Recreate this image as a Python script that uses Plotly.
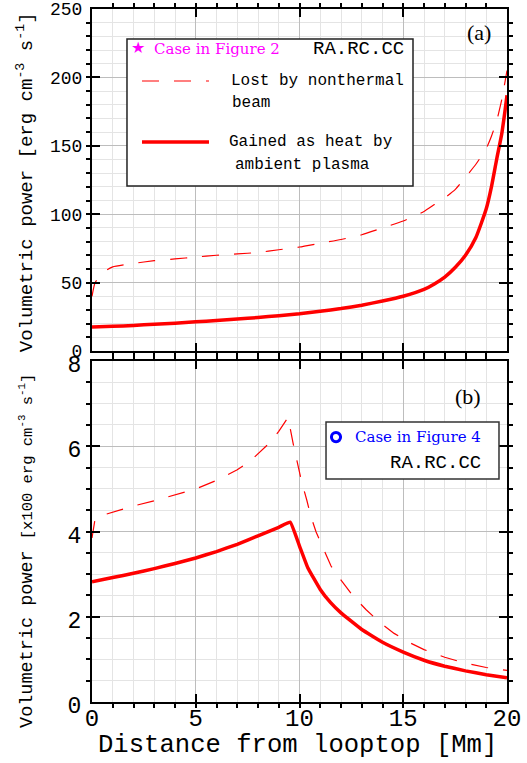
import plotly.graph_objects as go

# Panel (a): volumetric power along the loop [erg cm^-3 s^-1]
xa_lost = [0, 0.15, 0.4, 0.7, 1, 2, 3, 4, 5, 6, 7, 8, 9, 10, 11, 12, 13, 14, 15,
           16, 16.5, 17, 17.5, 18, 18.5, 19, 19.25, 19.5, 19.75, 20]
ya_lost = [40, 50, 55, 59, 61.5, 64, 66, 67.3, 68.7, 70, 71, 72, 74, 76, 78.8, 81.5,
           85, 90, 95, 102, 107, 112, 118, 127, 136.5, 148, 157, 168, 184, 205]
xa_gain = [0, 1, 2, 3, 4, 5, 6, 7, 8, 9, 10, 11, 12, 13, 14, 15, 16, 16.5, 17,
           17.5, 18, 18.5, 19, 19.25, 19.5, 19.75, 19.9, 20]
ya_gain = [17.5, 18, 18.7, 19.5, 20.3, 21.3, 22.3, 23.3, 24.5, 25.8, 27.2, 29, 31,
           33.5, 36.5, 40, 45, 49, 54, 61, 70, 83, 104, 120, 140, 159, 175, 187]

# Panel (b): volumetric power [x100 erg cm^-3 s^-1]
xb_lost = [0, 0.15, 0.5, 1, 2, 3, 4, 5, 6, 7, 7.6, 8, 8.6, 9, 9.45, 9.7, 9.9, 10.1,
           10.35, 10.55, 10.8, 11.17, 11.52, 12.03, 12.56, 13.2, 13.84, 14.56, 15.28,
           16, 17, 18, 19, 20]
yb_lost = [3.85, 4.3, 4.38, 4.45, 4.6, 4.72, 4.86, 5.0, 5.2, 5.45, 5.64, 5.83, 6.1,
           6.35, 6.68, 6.05, 5.6, 5.17, 4.74, 4.35, 3.99, 3.59, 3.19, 2.84, 2.5,
           2.17, 1.88, 1.61, 1.4, 1.23, 1.05, 0.91, 0.81, 0.74]
xb_gain = [0, 1, 2, 3, 4, 5, 6, 7, 8, 9, 9.55, 10, 10.4, 11, 11.5, 12, 13, 14, 15,
           16, 17, 18, 19, 20]
yb_gain = [2.82, 2.92, 3.02, 3.13, 3.25, 3.38, 3.53, 3.7, 3.9, 4.1, 4.22, 3.66, 3.15,
           2.64, 2.33, 2.09, 1.7, 1.4, 1.17, 0.98, 0.84, 0.73, 0.64, 0.57]

RED = '#ff0000'
MONO = 'Liberation Mono'
DASH = '17px,15px'

fig = go.Figure()
fig.add_trace(go.Scatter(x=xa_lost, y=ya_lost, mode='lines', xaxis='x', yaxis='y',
                         line=dict(color=RED, width=1.2, dash=DASH, shape='spline', smoothing=0.5)))
fig.add_trace(go.Scatter(x=xa_gain, y=ya_gain, mode='lines', xaxis='x', yaxis='y',
                         line=dict(color=RED, width=3.5, shape='spline', smoothing=0.5)))
fig.add_trace(go.Scatter(x=xb_lost, y=yb_lost, mode='lines', xaxis='x2', yaxis='y2',
                         line=dict(color=RED, width=1.2, dash=DASH)))
fig.add_trace(go.Scatter(x=xb_gain, y=yb_gain, mode='lines', xaxis='x2', yaxis='y2',
                         line=dict(color=RED, width=3.5, shape='spline', smoothing=0.3)))

axis_common = dict(
    showline=True, linecolor='black', linewidth=2, mirror='ticks',
    ticks='inside', ticklen=8, tickcolor='black', tickwidth=1.5,
    showgrid=True, gridcolor='#bdbdbd', gridwidth=1, zeroline=False,
    automargin=False,
)

fig.update_layout(
    width=527, height=763,
    margin=dict(l=92, r=20, t=9, b=61),
    paper_bgcolor='white', plot_bgcolor='white',
    showlegend=False,
    font=dict(family=MONO, color='black'),
    xaxis=dict(axis_common, range=[0, 20], dtick=5, anchor='y', domain=[0, 1],
               showticklabels=False,
               minor=dict(dtick=1, ticklen=4, showgrid=True, gridcolor='#e4e4e4')),
    yaxis=dict(axis_common, range=[0, 250], dtick=50, anchor='x', domain=[0.5065, 1],
               tickfont=dict(size=18, family=MONO), ticklabelstandoff=4,
               minor=dict(dtick=10, ticklen=4, showgrid=True, gridcolor='#e4e4e4')),
    xaxis2=dict(axis_common, range=[0, 20], dtick=5, anchor='y2', domain=[0, 1],
                tickfont=dict(size=24, family=MONO), ticklabelstandoff=-7,
                minor=dict(dtick=1, ticklen=4, showgrid=True, gridcolor='#e4e4e4')),
    yaxis2=dict(axis_common, range=[0, 8], dtick=2, anchor='x2', domain=[0, 0.492],
                tickfont=dict(size=23, family=MONO), ticklabelstandoff=4, ticklabelshift=3,
                minor=dict(dtick=0.5, ticklen=4, showgrid=True, gridcolor='#e4e4e4')),
)


def note(text, x, y, xref='paper', yref='paper', size=16, color='black', family=MONO,
         xanchor='center', angle=0):
    fig.add_annotation(xref=xref, yref=yref, x=x, y=y, text=text, showarrow=False,
                       xanchor=xanchor, yanchor='middle', textangle=angle,
                       font=dict(size=size, color=color, family=family))


# axis titles
note('Volumetric power [erg cm<sup>-3</sup> s<sup>-1</sup>]', -0.1614, 0.750,
     size=19, angle=-90)
note("Volumetric power <span style='font-size:15.5px'>[x100 erg cm<sup>-3</sup> s<sup>-1</sup>]</span>",
     -0.1566, 0.218, size=18.5, angle=-90)
note('Distance from looptop [Mm]', 0.496, -0.063, size=25.6)

# panel labels
note('(a)', 0.9325, 0.930, 'x domain', 'y domain', size=22, family='Liberation Serif')
note('(b)', 0.906, 0.897, 'x2 domain', 'y2 domain', size=22, family='Liberation Serif')

# legend box (a)
fig.add_shape(type='rect', xref='x domain', yref='y domain', x0=0.0843, x1=0.7735,
              y0=0.4825, y1=0.912, line=dict(color='#222222', width=1.5), fillcolor='white',
              layer='above')
note('★', 0.111, 0.886, 'x domain', 'y domain', size=16, color='#ff00ff', family='DejaVu Sans')
note('Case in Figure 2', 0.1446, 0.883, 'x domain', 'y domain', size=15, color='#ff00ff',
     family='DejaVu Serif', xanchor='left')
note('RA.RC.CC', 0.7566, 0.883, 'x domain', 'y domain', size=19, xanchor='right')
fig.add_shape(type='line', xref='x domain', yref='y domain', x0=0.1205, x1=0.2819,
              y0=0.7895, y1=0.7895, line=dict(color=RED, width=1.2, dash=DASH), layer='above')
note('Lost by nonthermal', 0.330, 0.7895, 'x domain', 'y domain', xanchor='left')
note('beam', 0.3325, 0.725, 'x domain', 'y domain', xanchor='left')
fig.add_shape(type='line', xref='x domain', yref='y domain', x0=0.1205, x1=0.2819,
              y0=0.611, y1=0.611, line=dict(color=RED, width=3.5), layer='above')
note('Gained as heat by', 0.325, 0.611, 'x domain', 'y domain', xanchor='left')
note('ambient plasma', 0.340, 0.5439, 'x domain', 'y domain', xanchor='left')

# legend box (b)
fig.add_shape(type='rect', xref='x2 domain', yref='y2 domain', x0=0.5639, x1=0.9807,
              y0=0.654, y1=0.821, line=dict(color='#333333', width=1.5), fillcolor='white',
              layer='above')
fig.add_shape(type='circle', xref='x2 domain', yref='y2 domain', x0=0.588 - 0.011,
              x1=0.588 + 0.011, y0=0.777 - 0.0135, y1=0.777 + 0.0135,
              line=dict(color='#0000ff', width=3), fillcolor='white', layer='above')
note('Case in Figure 4', 0.629, 0.777, 'x2 domain', 'y2 domain', size=15, color='#0000ff',
     family='DejaVu Serif', xanchor='left')
note('RA.RC.CC', 0.942, 0.701, 'x2 domain', 'y2 domain', size=19, xanchor='right')

fig.write_html("out.html", config={'displayModeBar': False},
               post_script="document.body.style.margin='0px';")
